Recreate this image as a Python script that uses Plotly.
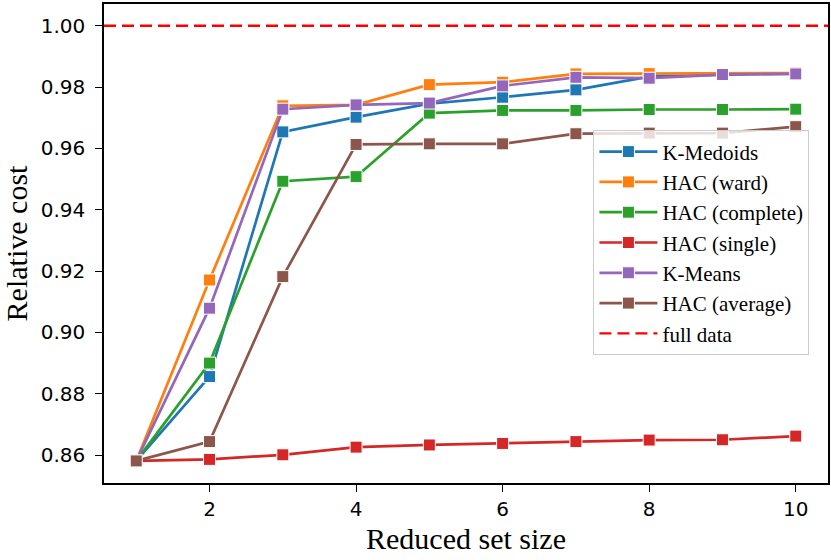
"""Relative cost of reduced sets vs. set size, per clustering method."""

import plotly.graph_objects as go

set_sizes = [1, 2, 3, 4, 5, 6, 7, 8, 9, 10]

kmedoids = [0.8581, 0.8856, 0.9654, 0.9702, 0.9746, 0.9767, 0.9791, 0.9834, 0.9841, 0.9844]
hac_ward = [0.8581, 0.9171, 0.9739, 0.9742, 0.9808, 0.9816, 0.9843, 0.9844, 0.9843, 0.9846]
hac_complete = [0.8581, 0.8900, 0.9493, 0.9508, 0.9715, 0.9724, 0.9724, 0.9727, 0.9727, 0.9728]
hac_single = [0.8581, 0.8586, 0.8601, 0.8626, 0.8633, 0.8638, 0.8644, 0.8649, 0.8650, 0.8662]
kmeans = [0.8581, 0.9079, 0.9728, 0.9742, 0.9748, 0.9804, 0.9832, 0.9829, 0.9841, 0.9843]
hac_average = [0.8581, 0.8644, 0.9182, 0.9613, 0.9615, 0.9615, 0.9648, 0.9650, 0.9650, 0.9671]

full_data = 1.0

series = [
    ("K-Medoids", kmedoids, "#1f77b4"),
    ("HAC (ward)", hac_ward, "#ff7f0e"),
    ("HAC (complete)", hac_complete, "#2ca02c"),
    ("HAC (single)", hac_single, "#d62728"),
    ("K-Means", kmeans, "#9467bd"),
    ("HAC (average)", hac_average, "#8c564b"),
]

SERIF = "Liberation Serif, Times New Roman, serif"
SANS = "DejaVu Sans, sans-serif"

fig = go.Figure()

for name, values, color in series:
    fig.add_trace(
        go.Scatter(
            x=set_sizes,
            y=values,
            mode="lines+markers",
            name=name,
            line=dict(color=color, width=2.7),
            marker=dict(symbol="square", size=12, color=color, line=dict(color="white", width=1)),
        )
    )

# reference line for the full data set
fig.add_hline(
    y=full_data,
    line=dict(color="#ff0000", width=2.4, dash="12px,6px"),
    showlegend=True,
    name="full data",
    layer="below",
)

axis_common = dict(
    showline=True,
    linecolor="black",
    linewidth=1.5,
    mirror=True,
    showgrid=False,
    zeroline=False,
    automargin=False,
    ticks="outside",
    ticklen=7,
    tickwidth=1.4,
    tickcolor="black",
    tickfont=dict(family=SANS, size=20, color="black"),
)

fig.update_layout(
    width=831,
    height=560,
    margin=dict(l=104, r=3, t=4, b=77),
    plot_bgcolor="white",
    paper_bgcolor="white",
    xaxis=dict(
        **axis_common,
        range=[0.56, 10.44],
        tickvals=[2, 4, 6, 8, 10],
        ticklabelstandoff=0,
        title=dict(text="Reduced set size", font=dict(family=SERIF, size=30, color="black"), standoff=8),
    ),
    yaxis=dict(
        **axis_common,
        range=[0.8509, 1.0071],
        tickvals=[0.86, 0.88, 0.90, 0.92, 0.94, 0.96, 0.98, 1.00],
        tickformat=".2f",
        ticklabelstandoff=6,
        title=dict(text="Relative cost", font=dict(family=SERIF, size=30, color="black"), standoff=4),
    ),
    legend=dict(
        x=0.676,
        y=0.736,
        xanchor="left",
        yanchor="top",
        bgcolor="rgba(255,255,255,0.8)",
        bordercolor="#cccccc",
        borderwidth=1,
        font=dict(family=SERIF, size=21, color="black"),
        tracegroupgap=0,
        itemwidth=58,
    ),
    showlegend=True,
)

fig.write_html(
    "out.html",
    config={"displayModeBar": False},
    post_script="document.body.style.margin = '0';",
)
